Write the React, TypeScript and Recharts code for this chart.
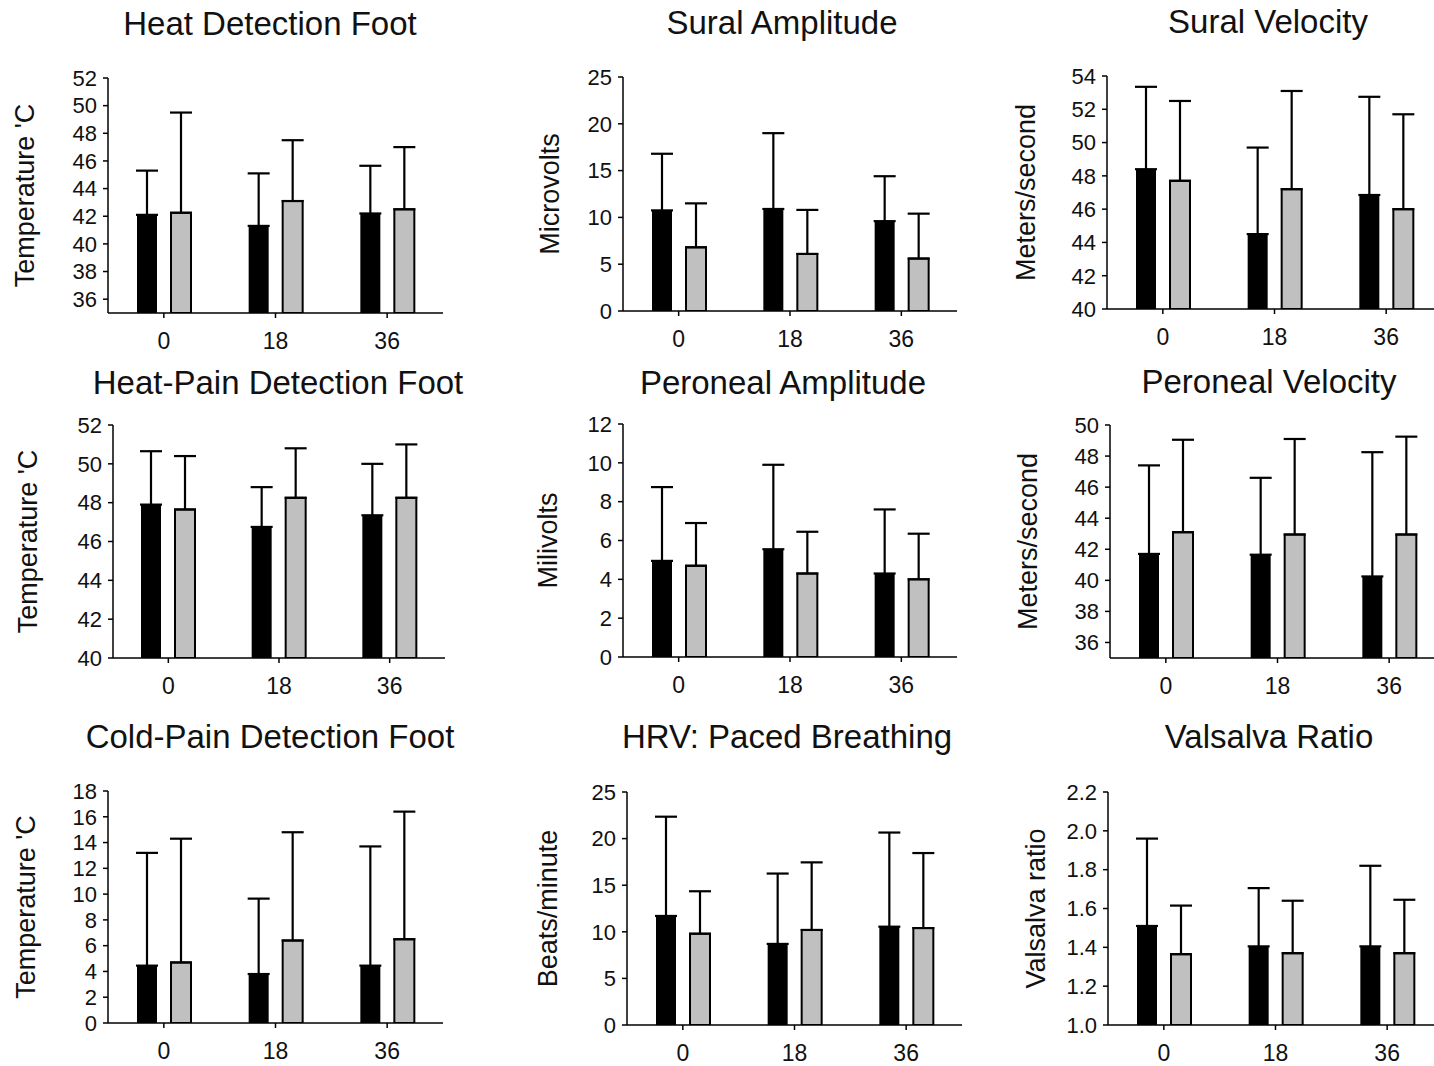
import React from "react";
import { BarChart, Bar, XAxis, YAxis, ErrorBar } from "recharts";

const FONT = "'Liberation Sans', Arial, sans-serif";

const categories = ["0", "18", "36"];

// Heat Detection Foot
const heatDetBlack = [42.1, 41.3, 42.2];
const heatDetBlackUpper = [45.3, 45.1, 45.65];
const heatDetGray = [42.25, 43.1, 42.5];
const heatDetGrayUpper = [49.5, 47.5, 47.0];
const heatDetTicks = [36, 38, 40, 42, 44, 46, 48, 50, 52];

// Sural Amplitude
const suralAmpBlack = [10.75, 10.9, 9.6];
const suralAmpBlackUpper = [16.8, 19.0, 14.4];
const suralAmpGray = [6.8, 6.1, 5.6];
const suralAmpGrayUpper = [11.5, 10.8, 10.4];
const suralAmpTicks = [0, 5, 10, 15, 20, 25];

// Sural Velocity
const suralVelBlack = [48.4, 44.5, 46.85];
const suralVelBlackUpper = [53.35, 49.7, 52.75];
const suralVelGray = [47.7, 47.2, 46.0];
const suralVelGrayUpper = [52.5, 53.1, 51.7];
const suralVelTicks = [40, 42, 44, 46, 48, 50, 52, 54];

// Heat-Pain Detection Foot
const heatPainBlack = [47.9, 46.75, 47.35];
const heatPainBlackUpper = [50.65, 48.8, 50.0];
const heatPainGray = [47.65, 48.25, 48.25];
const heatPainGrayUpper = [50.4, 50.8, 51.0];
const heatPainTicks = [40, 42, 44, 46, 48, 50, 52];

// Peroneal Amplitude
const peroAmpBlack = [4.95, 5.55, 4.3];
const peroAmpBlackUpper = [8.75, 9.9, 7.6];
const peroAmpGray = [4.7, 4.3, 4.0];
const peroAmpGrayUpper = [6.9, 6.45, 6.35];
const peroAmpTicks = [0, 2, 4, 6, 8, 10, 12];

// Peroneal Velocity
const peroVelBlack = [41.7, 41.65, 40.25];
const peroVelBlackUpper = [47.4, 46.6, 48.25];
const peroVelGray = [43.1, 42.95, 42.95];
const peroVelGrayUpper = [49.05, 49.1, 49.25];
const peroVelTicks = [36, 38, 40, 42, 44, 46, 48, 50];

// Cold-Pain Detection Foot
const coldPainBlack = [4.45, 3.8, 4.45];
const coldPainBlackUpper = [13.2, 9.65, 13.7];
const coldPainGray = [4.7, 6.4, 6.5];
const coldPainGrayUpper = [14.3, 14.8, 16.4];
const coldPainTicks = [0, 2, 4, 6, 8, 10, 12, 14, 16, 18];

// HRV: Paced Breathing
const hrvBlack = [11.7, 8.7, 10.55];
const hrvBlackUpper = [22.35, 16.25, 20.65];
const hrvGray = [9.8, 10.2, 10.4];
const hrvGrayUpper = [14.35, 17.45, 18.45];
const hrvTicks = [0, 5, 10, 15, 20, 25];

// Valsalva Ratio
const valsalvaBlack = [1.51, 1.405, 1.405];
const valsalvaBlackUpper = [1.96, 1.705, 1.82];
const valsalvaGray = [1.365, 1.37, 1.37];
const valsalvaGrayUpper = [1.615, 1.64, 1.645];
const valsalvaTicks = [1.0, 1.2, 1.4, 1.6, 1.8, 2.0, 2.2];

type PanelProps = {
  title: string;
  yLabel: string;
  black: number[];
  blackUpper: number[];
  gray: number[];
  grayUpper: number[];
  domain: [number, number];
  ticks: number[];
  box: { x: number; y: number; w: number; h: number };
  titleX: number;
  titleBase: number;
  labelDx: number;
  fmt?: (v: number) => string;
};

const AXW = 110;
const MT = 12;
const MR = 4;
const XAH = 50;

function Panel(p: PanelProps) {
  const rows = categories.map((c, i) => ({
    cat: c,
    black: p.black[i],
    gray: p.gray[i],
    blackErr: [0, p.blackUpper[i] - p.black[i]],
    grayErr: [0, p.grayUpper[i] - p.gray[i]],
  }));
  const width = AXW + p.box.w + MR;
  const height = MT + p.box.h + XAH;

  // rotated y title, baseline sits labelDx px left of the axis line
  const renderLabel = (props: any) => {
    const vb = props.viewBox;
    const bx = vb.x + vb.width - p.labelDx;
    const cy = vb.y + vb.height / 2;
    return (
      <text
        x={bx}
        y={cy}
        transform={`rotate(-90 ${bx} ${cy})`}
        textAnchor="middle"
        fontSize={27}
        fontFamily={FONT}
        fill="#111"
      >
        {p.yLabel}
      </text>
    );
  };

  return (
    <>
      <div
        style={{
          position: "absolute",
          left: p.titleX - 250,
          top: p.titleBase - 28,
          width: 500,
          textAlign: "center",
          fontSize: 33,
          lineHeight: "33px",
          fontFamily: FONT,
          color: "#111",
          whiteSpace: "nowrap",
        }}
      >
        {p.title}
      </div>
      <div style={{ position: "absolute", left: p.box.x - AXW, top: p.box.y - MT }}>
        <BarChart
          width={width}
          height={height}
          data={rows}
          margin={{ top: MT, right: MR, left: 0, bottom: 0 }}
          barSize={20}
          barGap={14}
        >
          <XAxis
            dataKey="cat"
            height={XAH}
            axisLine={{ stroke: "#000", strokeWidth: 1.5 }}
            tickLine={{ stroke: "#000", strokeWidth: 1.5 }}
            tickSize={5}
            tickMargin={15}
            tick={{ fontSize: 23, fontFamily: FONT, fill: "#111" }}
          />
          <YAxis
            width={AXW}
            domain={p.domain}
            ticks={p.ticks}
            allowDataOverflow
            interval={0}
            tickFormatter={p.fmt}
            axisLine={{ stroke: "#000", strokeWidth: 1.5 }}
            tickLine={{ stroke: "#000", strokeWidth: 1.5 }}
            tickSize={5}
            tickMargin={6}
            tick={{ fontSize: 22, fontFamily: FONT, fill: "#111" }}
            label={renderLabel}
          />
          <Bar dataKey="black" fill="#000" isAnimationActive={false}>
            <ErrorBar dataKey="blackErr" width={11} strokeWidth={2.2} stroke="#000" direction="y" isAnimationActive={false} />
          </Bar>
          <Bar dataKey="gray" fill="#c0c0c0" stroke="#000" strokeWidth={2} isAnimationActive={false}>
            <ErrorBar dataKey="grayErr" width={11} strokeWidth={2.2} stroke="#000" direction="y" isAnimationActive={false} />
          </Bar>
        </BarChart>
      </div>
    </>
  );
}

export default function App() {
  return (
    <div
      style={{
        position: "absolute",
        left: 0,
        top: 0,
        width: 1434,
        height: 1066,
        overflow: "hidden",
        background: "#fff",
      }}
    >
      <Panel
        title="Heat Detection Foot"
        yLabel="Temperature 'C"
        black={heatDetBlack}
        blackUpper={heatDetBlackUpper}
        gray={heatDetGray}
        grayUpper={heatDetGrayUpper}
        domain={[35, 52]}
        ticks={heatDetTicks}
        box={{ x: 108, y: 78, w: 335, h: 235 }}
        titleX={270}
        titleBase={35}
        labelDx={74}
      />
      <Panel
        title="Sural Amplitude"
        yLabel="Microvolts"
        black={suralAmpBlack}
        blackUpper={suralAmpBlackUpper}
        gray={suralAmpGray}
        grayUpper={suralAmpGrayUpper}
        domain={[0, 25]}
        ticks={suralAmpTicks}
        box={{ x: 623, y: 77, w: 334, h: 234 }}
        titleX={782}
        titleBase={34}
        labelDx={64}
      />
      <Panel
        title="Sural Velocity"
        yLabel="Meters/second"
        black={suralVelBlack}
        blackUpper={suralVelBlackUpper}
        gray={suralVelGray}
        grayUpper={suralVelGrayUpper}
        domain={[40, 54]}
        ticks={suralVelTicks}
        box={{ x: 1107, y: 76, w: 335, h: 233 }}
        titleX={1268}
        titleBase={33}
        labelDx={72}
      />
      <Panel
        title="Heat-Pain Detection Foot"
        yLabel="Temperature 'C"
        black={heatPainBlack}
        blackUpper={heatPainBlackUpper}
        gray={heatPainGray}
        grayUpper={heatPainGrayUpper}
        domain={[40, 52]}
        ticks={heatPainTicks}
        box={{ x: 113, y: 425, w: 332, h: 233 }}
        titleX={278}
        titleBase={394}
        labelDx={76}
      />
      <Panel
        title="Peroneal Amplitude"
        yLabel="Milivolts"
        black={peroAmpBlack}
        blackUpper={peroAmpBlackUpper}
        gray={peroAmpGray}
        grayUpper={peroAmpGrayUpper}
        domain={[0, 12]}
        ticks={peroAmpTicks}
        box={{ x: 623, y: 424, w: 334, h: 233 }}
        titleX={783}
        titleBase={394}
        labelDx={66}
      />
      <Panel
        title="Peroneal Velocity"
        yLabel="Meters/second"
        black={peroVelBlack}
        blackUpper={peroVelBlackUpper}
        gray={peroVelGray}
        grayUpper={peroVelGrayUpper}
        domain={[35, 50]}
        ticks={peroVelTicks}
        box={{ x: 1110, y: 425, w: 335, h: 233 }}
        titleX={1269}
        titleBase={393}
        labelDx={73}
      />
      <Panel
        title="Cold-Pain Detection Foot"
        yLabel="Temperature 'C"
        black={coldPainBlack}
        blackUpper={coldPainBlackUpper}
        gray={coldPainGray}
        grayUpper={coldPainGrayUpper}
        domain={[0, 18]}
        ticks={coldPainTicks}
        box={{ x: 108, y: 791, w: 335, h: 232 }}
        titleX={270}
        titleBase={748}
        labelDx={73}
      />
      <Panel
        title="HRV: Paced Breathing"
        yLabel="Beats/minute"
        black={hrvBlack}
        blackUpper={hrvBlackUpper}
        gray={hrvGray}
        grayUpper={hrvGrayUpper}
        domain={[0, 25]}
        ticks={hrvTicks}
        box={{ x: 627, y: 792, w: 335, h: 233 }}
        titleX={787}
        titleBase={748}
        labelDx={70}
      />
      <Panel
        title="Valsalva Ratio"
        yLabel="Valsalva ratio"
        black={valsalvaBlack}
        blackUpper={valsalvaBlackUpper}
        gray={valsalvaGray}
        grayUpper={valsalvaGrayUpper}
        domain={[1.0, 2.2]}
        ticks={valsalvaTicks}
        box={{ x: 1108, y: 792, w: 335, h: 233 }}
        titleX={1269}
        titleBase={748}
        labelDx={63}
        fmt={(v: number) => v.toFixed(1)}
      />
    </div>
  );
}
